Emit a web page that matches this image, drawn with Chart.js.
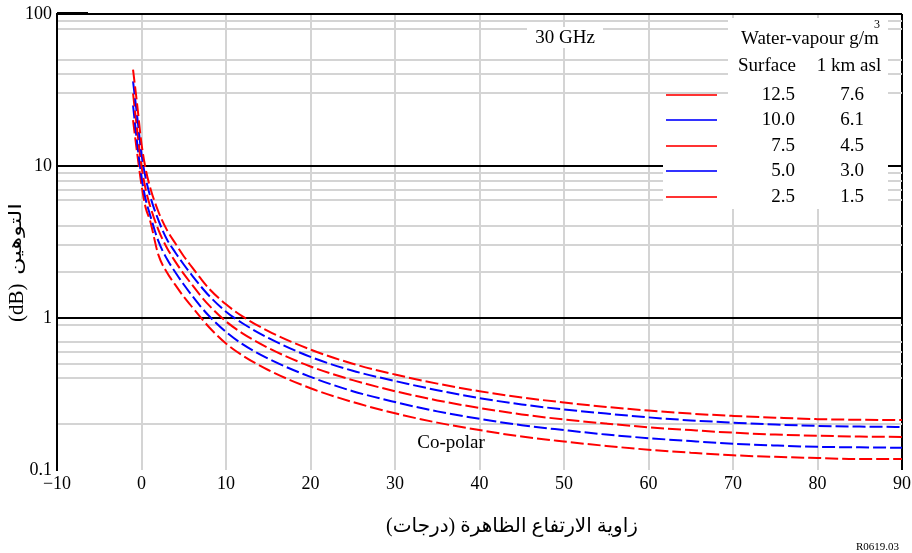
<!DOCTYPE html>
<html>
<head>
<meta charset="utf-8">
<script src="https://cdn.jsdelivr.net/npm/chart.js@4.4.0/dist/chart.umd.min.js"></script>
<style>
  body { margin: 0; background: #fff; }
  canvas { display: block; }
</style>
</head>
<body>
<canvas id="myChart" width="912" height="553"></canvas>
<script>
// elevation angle (degrees)
const elevation = [-1, -0.5, 0, 0.5, 1, 2, 3, 4, 5, 6, 7, 8, 10, 12, 15, 20, 25, 30, 35, 40, 45, 50, 55, 60, 65, 70, 75, 80, 85, 90];

// attenuation (dB), one list per water-vapour density
const wv125 = [43, 25, 14, 9.5, 7.3, 5.0, 3.8, 3.1, 2.55, 2.15, 1.82, 1.56, 1.23, 1.02, 0.82, 0.62, 0.50, 0.425, 0.37, 0.33, 0.30, 0.278, 0.26, 0.246, 0.235, 0.227, 0.221, 0.216, 0.214, 0.213];
const wv100 = [36, 21, 12, 8.3, 6.4, 4.4, 3.3, 2.7, 2.25, 1.9, 1.62, 1.4, 1.1, 0.92, 0.74, 0.555, 0.45, 0.385, 0.335, 0.297, 0.27, 0.25, 0.235, 0.222, 0.212, 0.205, 0.199, 0.195, 0.193, 0.192];
const wv75 = [30, 17, 10, 7.0, 5.5, 3.8, 2.9, 2.35, 1.95, 1.65, 1.4, 1.21, 0.95, 0.79, 0.635, 0.48, 0.39, 0.33, 0.287, 0.256, 0.232, 0.215, 0.202, 0.191, 0.183, 0.176, 0.171, 0.168, 0.166, 0.165];
const wv50 = [25, 14, 8.5, 6.0, 4.8, 3.2, 2.45, 2.0, 1.66, 1.4, 1.19, 1.03, 0.81, 0.67, 0.54, 0.41, 0.33, 0.28, 0.243, 0.217, 0.197, 0.183, 0.171, 0.162, 0.155, 0.149, 0.145, 0.142, 0.141, 0.140];
const wv25 = [20, 12, 7.5, 5.3, 4.4, 2.6, 2.0, 1.65, 1.38, 1.18, 1.01, 0.87, 0.68, 0.565, 0.455, 0.345, 0.28, 0.236, 0.205, 0.183, 0.166, 0.154, 0.144, 0.136, 0.13, 0.125, 0.122, 0.12, 0.118, 0.118];

const surfaceValues = ["12.5", "10.0", "7.5", "5.0", "2.5"];
const kmValues = ["7.6", "6.1", "4.5", "3.0", "1.5"];
const seriesColors = ["#ff0000", "#0000ff", "#ff0000", "#0000ff", "#ff0000"];

// tick / grid values
const xTicks = [-10, 0, 10, 20, 30, 40, 50, 60, 70, 80, 90];
const yGridValues = [0.1, 0.2, 0.4, 0.5, 0.6, 0.7, 0.9, 1, 2, 3, 4, 6, 7, 8, 9, 10, 30, 40, 50, 80, 90, 100];
const yLabelValues = [0.1, 1, 10, 100];

const serif = "'Liberation Serif', 'DejaVu Serif', serif";
const arabic = "'Liberation Serif', 'DejaVu Sans', serif";

const allSeries = [wv125, wv100, wv75, wv50, wv25];

const datasets = allSeries.map((vals, i) => ({
  label: surfaceValues[i],
  data: elevation.map((x, j) => ({ x: x, y: vals[j] })),
  borderColor: seriesColors[i],
  borderWidth: 2,
  borderDash: [13, 4],
  pointRadius: 0,
  cubicInterpolationMode: "monotone",
  fill: false,
}));

const overlay = {
  id: "overlay",
  afterDraw: (chart) => {
    const ctx = chart.ctx;
    const area = chart.chartArea;
    ctx.save();

    // heavier stub on the top frame, left end
    ctx.fillStyle = "#000";
    ctx.fillRect(area.left, area.top - 2, 31, 3);

    // white backgrounds behind labels
    ctx.fillStyle = "#fff";
    ctx.fillRect(527, 27, 76, 21);
    ctx.fillRect(728, 18, 160, 191);
    ctx.fillRect(663, 150, 65, 59);

    ctx.fillStyle = "#000";
    ctx.font = "19px " + serif;
    ctx.textBaseline = "middle";

    ctx.textAlign = "center";
    ctx.fillText("30 GHz", 565, 38);
    ctx.fillText("Co-polar", 451, 443);

    // legend table
    ctx.textAlign = "left";
    const head = "Water-vapour g/m";
    ctx.fillText(head, 741, 39);
    const headW = ctx.measureText(head).width;
    ctx.font = "12px " + serif;
    ctx.fillText("3", 741 + headW - 5, 25);
    ctx.font = "19px " + serif;
    ctx.textAlign = "center";
    ctx.fillText("Surface", 767, 66);
    ctx.fillText("1 km asl", 849, 66);

    const rows = [95, 120, 146, 171, 197];
    rows.forEach((y, i) => {
      ctx.strokeStyle = seriesColors[i];
      ctx.globalAlpha = 0.8;
      ctx.lineWidth = 2;
      ctx.beginPath();
      ctx.moveTo(666, y);
      ctx.lineTo(717, y);
      ctx.stroke();
      ctx.globalAlpha = 1;
      ctx.textAlign = "right";
      ctx.fillText(surfaceValues[i], 795, y);
      ctx.textAlign = "center";
      ctx.fillText(kmValues[i], 852, y);
    });

    // x axis title
    ctx.direction = "rtl";
    ctx.font = "20px " + arabic;
    ctx.textAlign = "center";
    ctx.fillText("زاوية الارتفاع الظاهرة (درجات)", 512, 527);
    ctx.direction = "ltr";

    // y axis title, read bottom to top: "(dB)" then the Arabic word
    ctx.save();
    ctx.translate(17, 322);
    ctx.rotate(-Math.PI / 2);
    ctx.font = "21px " + serif;
    ctx.textAlign = "left";
    ctx.fillText("(dB)", 0, 0);
    ctx.font = "17px " + arabic;
    const word = "التوهين";
    const ww = ctx.measureText(word).width;
    ctx.translate(47, 0);
    ctx.scale(72 / ww, 1);
    ctx.direction = "rtl";
    ctx.textAlign = "right";
    ctx.fillText(word, ww, 0);
    ctx.restore();

    ctx.direction = "ltr";
    ctx.textAlign = "left";
    ctx.font = "11px " + serif;
    ctx.fillText("R0619.03", 856, 547);

    ctx.restore();
  },
};

const config = {
  type: "line",
  data: { datasets: datasets },
  options: {
    responsive: false,
    animation: false,
    layout: { padding: { left: 0, right: 10, top: 14, bottom: 0 } },
    plugins: {
      legend: { display: false },
      tooltip: { enabled: false },
    },
    scales: {
      x: {
        type: "linear",
        min: -10,
        max: 90,
        afterBuildTicks: (scale) => {
          scale.ticks = xTicks.map((v) => ({ value: v }));
        },
        afterFit: (scale) => {
          scale.height = 83;
          scale.paddingRight = 0;
          scale.paddingLeft = 0;
        },
        ticks: {
          padding: 3,
          color: "#000",
          font: { family: serif, size: 18 },
          maxRotation: 0,
          autoSkip: false,
          callback: (v) => String(v).replace("-", "\u2212"),
        },
        border: { display: false },
        grid: {
          drawTicks: false,
          lineWidth: 2,
          color: (c) => (c.tick && (c.tick.value === -10 || c.tick.value === 90) ? "#000" : "#d4d4d4"),
        },
      },
      y: {
        type: "logarithmic",
        min: 0.1,
        max: 100,
        afterBuildTicks: (scale) => {
          scale.ticks = yGridValues.map((v) => ({ value: v, major: yLabelValues.includes(v) }));
        },
        afterFit: (scale) => {
          scale.width = 57;
          scale.paddingTop = 0;
          scale.paddingBottom = 0;
        },
        ticks: {
          padding: 5,
          color: "#000",
          font: { family: serif, size: 18 },
          autoSkip: false,
          callback: (v) => (yLabelValues.includes(v) ? String(v) : ""),
        },
        border: { display: true, color: "#000", width: 2 },
        grid: {
          drawTicks: false,
          lineWidth: 2,
          color: (c) => {
            if (!c.tick) return "#d4d4d4";
            const v = c.tick.value;
            if (v === 0.1) return "rgba(0,0,0,0)";
            if (v === 1 || v === 10 || v === 100) return "#000";
            return "#d4d4d4";
          },
        },
      },
    },
  },
  plugins: [overlay],
};

const chart = new Chart(document.getElementById("myChart").getContext("2d"), config);
</script>
</body>
</html>
